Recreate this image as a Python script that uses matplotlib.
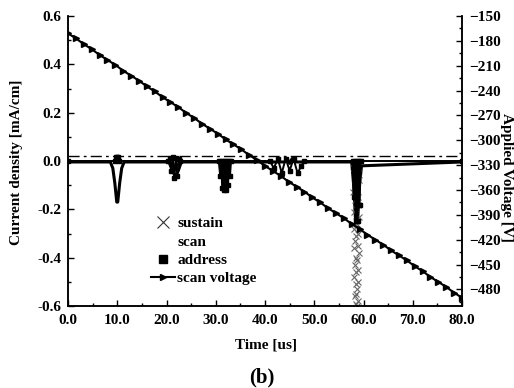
import numpy as np
import matplotlib
matplotlib.use("Agg")
import matplotlib.pyplot as plt
from matplotlib.ticker import MultipleLocator, FormatStrFormatter

plt.rcParams['font.family'] = ['Liberation Serif', 'DejaVu Serif']
plt.rcParams['font.weight'] = 'bold'
plt.rcParams['font.size'] = 11

# sustain current (baseline, spike at 10 us, big discharge near 58.5 us)
sustain_t = [0, 8.6, 9.1, 9.5, 9.9, 10.1, 10.5, 10.9, 11.4, 20.5, 21.2, 21.8, 22.4, 23.0,
             44.0, 44.5, 45.0, 45.5, 46.0, 57.6, 58.0, 58.4, 58.8, 59.2, 59.6, 80.0]
sustain_j = [-0.004, -0.004, -0.03, -0.09, -0.17, -0.17, -0.09, -0.03, -0.004, -0.004, -0.04,
             -0.065, -0.04, -0.004, -0.004, 0.01, -0.01, 0.01, -0.004, -0.004, -0.1, -0.25,
             -0.25, -0.1, -0.02, -0.004]
# sustain points of the discharge column near 58.5 us
sustain_x_t = [58.0, 58.8, 58.4, 59.0, 58.2, 58.6, 57.9, 58.8, 58.3, 58.9,
               58.5, 58.0, 59.0, 58.4, 58.6, 58.1, 58.8, 58.5, 58.2, 58.9,
               58.0, 59.0, 58.4, 58.6, 58.2, 58.8, 58.5, 58.1, 58.9, 58.4,
               58.7, 58.5, 58.2, 58.8, 58.4, 58.6]
sustain_x_j = [-0.03, -0.05, -0.06, -0.08, -0.10, -0.11, -0.13, -0.15, -0.16, -0.18,
               -0.20, -0.21, -0.23, -0.25, -0.26, -0.28, -0.30, -0.31, -0.33, -0.35,
               -0.36, -0.38, -0.40, -0.41, -0.43, -0.45, -0.46, -0.48, -0.50, -0.51,
               -0.53, -0.55, -0.56, -0.58, -0.59, -0.60]

# scan current (dashed trace slightly above zero)
scan_t = [0, 80]
scan_j = [0.02, 0.02]

# address current (blobs at 10, 21, 31, 45 and 58 us)
address_t = [0, 9.6, 9.8, 10.0, 10.2, 10.4, 20.4, 20.7, 21.0, 21.3, 21.6, 21.9, 22.2, 22.5, 22.8,
             30.6, 30.9, 31.1, 31.3, 31.5, 31.7, 31.9, 32.1, 32.3, 32.5, 32.7, 32.9, 33.1,
             41.0, 41.8, 42.6, 43.4, 44.2, 45.0, 45.8, 46.6, 47.4, 48.0,
             57.8, 58.0, 58.2, 58.4, 58.6, 58.8, 59.0, 59.2, 59.4, 80.0]
address_j = [0, 0, 0.015, 0.015, 0.015, 0, 0, 0.012, -0.04, 0.015, -0.07, 0.012, -0.06, 0.01, 0,
             0, -0.06, 0, -0.11, 0, -0.12, 0, -0.12, 0, -0.10, 0, -0.06, 0,
             0, -0.03, 0.01, -0.05, 0.01, -0.04, 0.01, -0.05, -0.02, 0,
             0, -0.15, 0, -0.25, 0, -0.25, 0, -0.18, 0, 0]

# scan voltage ramp (right axis)
volt_t = np.arange(0, 80.01, 1.6)
volt_v = [-171, -177, -184, -190, -197, -203, -209, -216, -222, -228, -235, -241, -248,
          -254, -260, -267, -273, -280, -286, -292, -299, -305, -311, -318, -324, -331,
          -337, -343, -350, -356, -362, -369, -375, -382, -388, -394, -401, -407, -414,
          -420, -426, -433, -439, -445, -452, -458, -465, -471, -477, -484, -490]

fig = plt.figure(figsize=(5.14, 3.88), dpi=100)
ax = fig.add_axes([68 / 514, 1 - 306 / 388, 394 / 514, 290 / 388])
ax2 = ax.twinx()

ax.plot(sustain_t, sustain_j, color='black', lw=2.2, label='_nolegend_')
ax.plot(sustain_x_t, sustain_x_j, 'x', color='0.4', ms=5, mew=0.8, label='sustain')
ax.plot(scan_t, scan_j, color='black', lw=1.0, ls=(0, (8, 3, 2, 3)), label='scan')
ax.plot(address_t, address_j, 's-', color='black', ms=2.4, lw=1.4, label='address')
ax2.plot(volt_t, volt_v, '>-', color='black', ms=4.8, lw=1.5, label='scan voltage')

ax.set_xlim(0, 80)
ax.set_ylim(-0.6, 0.6)
ax2.set_ylim(-500, -150)

ax.xaxis.set_major_locator(MultipleLocator(10))
ax.xaxis.set_minor_locator(MultipleLocator(5))
ax.xaxis.set_major_formatter(FormatStrFormatter('%.1f'))
ax.yaxis.set_major_locator(MultipleLocator(0.2))
ax.yaxis.set_minor_locator(MultipleLocator(0.1))
ax.yaxis.set_major_formatter(FormatStrFormatter('%.1f'))
ax2.yaxis.set_minor_locator(MultipleLocator(15))
ax2.set_yticks(np.arange(-480, -149, 30))

for a in (ax, ax2):
    a.spines['top'].set_visible(False)
    for s in a.spines.values():
        s.set_linewidth(1.1)
ax.tick_params(which='both', direction='in', width=1.0, pad=5)
ax.tick_params(which='major', length=4)
ax.tick_params(which='minor', length=2.5)
ax.tick_params(axis='x', pad=6)
ax2.tick_params(which='both', direction='in', width=1.0, pad=5)
ax2.tick_params(which='major', length=4)
ax2.tick_params(which='minor', length=2.5)

fig.text(17 / 514, 1 - 162 / 388, 'Current density [mA/cm]', rotation=90,
         ha='center', va='center', fontsize=11)
fig.text(507 / 514, 1 - 177 / 388, 'Applied Voltage [V]', rotation=270,
         ha='center', va='center', fontsize=11)
fig.text(266 / 514, 1 - 345 / 388, 'Time [us]', ha='center', va='center', fontsize=11)
fig.text(262 / 514, 1 - 377 / 388, '(b)', ha='center', va='center', fontsize=15)

h1, lab1 = ax.get_legend_handles_labels()
h2, lab2 = ax2.get_legend_handles_labels()
leg = ax.legend(h1 + h2, lab1 + lab2, loc='upper left',
                bbox_to_anchor=(143 / 514, 1 - 209 / 388), bbox_transform=fig.transFigure,
                frameon=False, borderpad=0, handlelength=1.6, handletextpad=0.15,
                labelspacing=0.3, fontsize=11)
leg.legend_handles[1].set_visible(False)
for hd in leg.legend_handles[:1] + leg.legend_handles[2:3]:
    hd.set_linestyle('none')
leg.legend_handles[0].set_markersize(8)
leg.legend_handles[0].set_color('0.2')
leg.legend_handles[2].set_markersize(5.5)

fig.savefig('out.png', dpi=100)
